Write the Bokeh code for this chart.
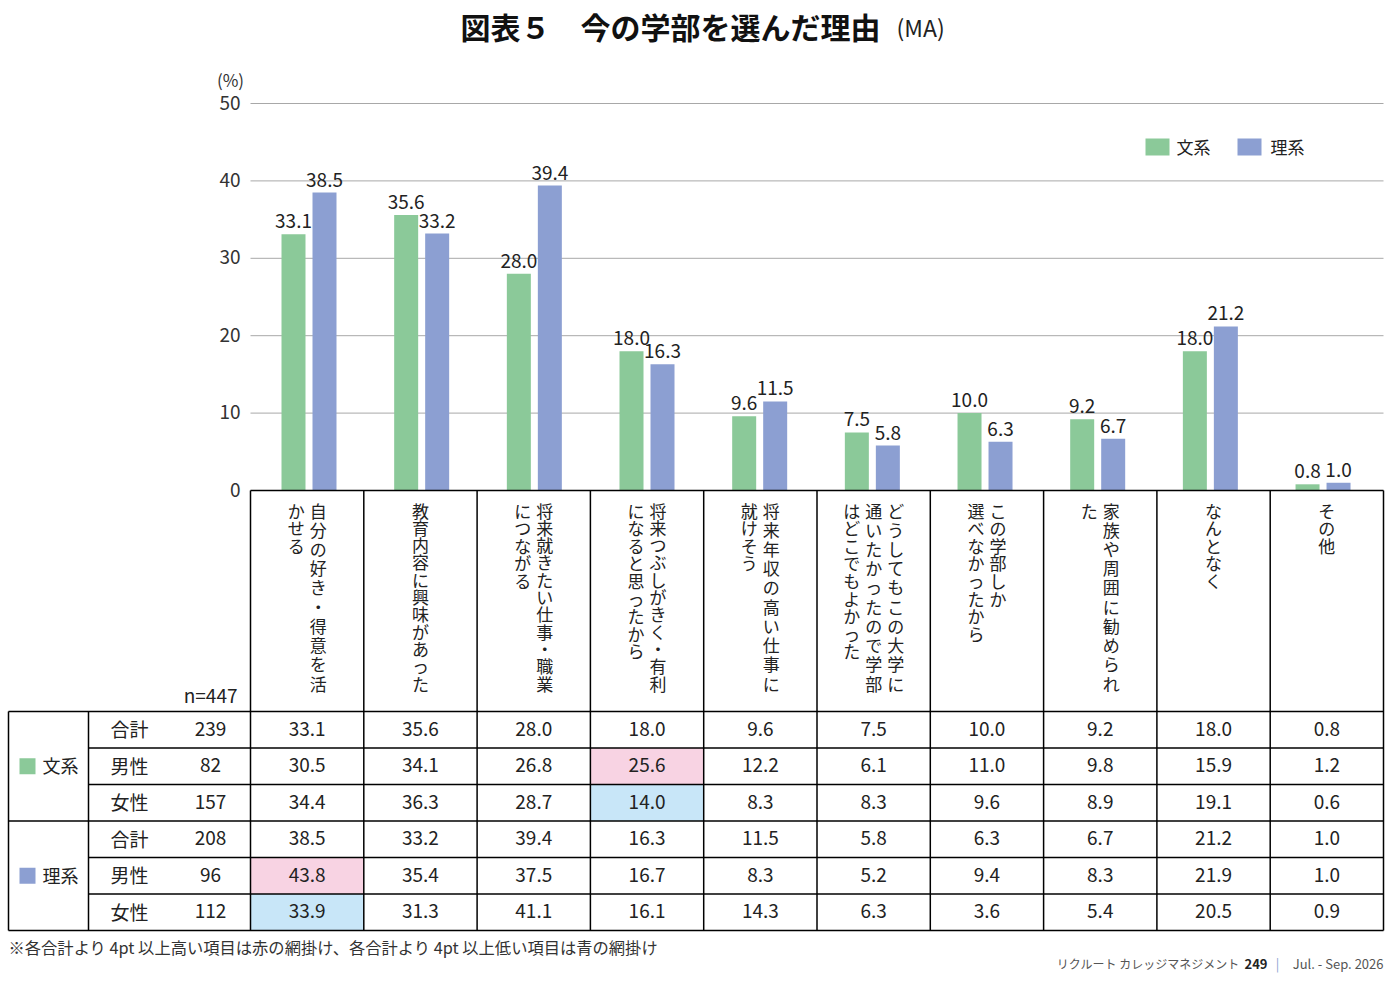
from bokeh.plotting import figure
from bokeh.models import Range1d
from bokeh.core.properties import value
from bokeh.embed import file_html
from bokeh.resources import INLINE

# ---------------- data ----------------
categories = [
    ["自分の好き・得意を活", "かせる"],
    ["教育内容に興味があった"],
    ["将来就きたい仕事・職業", "につながる"],
    ["将来つぶしがきく・有利", "になると思ったから"],
    ["将来年収の高い仕事に", "就けそう"],
    ["どうしてもこの大学に", "通いたかったので学部", "はどこでもよかった"],
    ["この学部しか", "選べなかったから"],
    ["家族や周囲に勧められ", "た"],
    ["なんとなく"],
    ["その他"],
]
series_names = ["文系", "理系"]
bunkei_total = [33.1, 35.6, 28.0, 18.0, 9.6, 7.5, 10.0, 9.2, 18.0, 0.8]
bunkei_male = [30.5, 34.1, 26.8, 25.6, 12.2, 6.1, 11.0, 9.8, 15.9, 1.2]
bunkei_female = [34.4, 36.3, 28.7, 14.0, 8.3, 8.3, 9.6, 8.9, 19.1, 0.6]
rikei_total = [38.5, 33.2, 39.4, 16.3, 11.5, 5.8, 6.3, 6.7, 21.2, 1.0]
rikei_male = [43.8, 35.4, 37.5, 16.7, 8.3, 5.2, 9.4, 8.3, 21.9, 1.0]
rikei_female = [33.9, 31.3, 41.1, 16.1, 14.3, 6.3, 3.6, 5.4, 20.5, 0.9]
row_labels = ["合計", "男性", "女性", "合計", "男性", "女性"]
row_n = [239, 82, 157, 208, 96, 112]
y_ticks = [0, 10, 20, 30, 40, 50]
n_total = "n=447"

title = "図表５　今の学部を選んだ理由"
title_sub = "(MA)"
footnote = "※各合計より 4pt 以上高い項目は赤の網掛け、各合計より 4pt 以上低い項目は青の網掛け"

# ---------------- style / layout ----------------
FONT = "Noto Sans CJK JP"
GREEN = "#8BC999"
BLUE = "#8C9FD2"
PINK = "#F8D3E3"
LBLUE = "#C8E6F8"
TXT = "#222222"

W, H = 1389, 981
COL0, COLW = 250.0, 113.3      # table columns
ZERO, PPU = 490.0, 7.74        # y=0 pixel and pixels per percent


def X(px):
    return (px - COL0) / COLW


def Y(py):
    return (ZERO - py) / PPU


p = figure(width=W, height=H, x_range=Range1d(X(0), X(W)), y_range=Range1d(Y(H), Y(0)),
           min_border=0, toolbar_location=None, output_backend="svg",
           x_axis_location=None, y_axis_location=None)
p.grid.visible = False
p.outline_line_color = None
p.background_fill_color = "white"
p.border_fill_color = "white"


def txt(x, y, t, size, align="center", baseline="middle", color=TXT, style="normal"):
    p.text(x=x, y=y, text=t, text_font=value(FONT), text_font_size=size,
           text_align=align, text_baseline=baseline, text_color=color,
           text_font_style=style)


# title
txt([X(460)], [Y(25)], [title], "30px", align="left", style="bold", color="#111")
txt([X(896)], [Y(26)], [title_sub], "23px", align="left", color="#222")

# gridlines
grid = [t for t in y_ticks if t > 0]
p.segment(x0=[0] * len(grid), x1=[10] * len(grid), y0=grid, y1=grid,
          line_color="#a8a8a8", line_width=1)
p.text(x=[X(240)] * len(y_ticks), y=y_ticks, text=[str(t) for t in y_ticks],
       text_font=value(FONT), text_font_size="19px", text_align="right",
       text_baseline="middle", text_color="#333", y_offset=-1)
txt([X(230)], [Y(79)], ["(%)"], "17px", color="#333")

# bars
n = len(bunkei_total)
pitch = 112.67 / COLW
centers = [X(308.5) + i * pitch for i in range(n)]
off = 15.5 / COLW
bw = 24 / COLW
gx = [c - off for c in centers]
bx = [c + off for c in centers]
p.vbar(x=gx, top=bunkei_total, bottom=0, width=bw, fill_color=GREEN, line_color=None)
p.vbar(x=bx, top=rikei_total, bottom=0, width=bw, fill_color=BLUE, line_color=None)
for xs, vals in ((gx, bunkei_total), (bx, rikei_total)):
    p.text(x=xs, y=vals, text=[f"{v:.1f}" for v in vals], text_font=value(FONT),
           text_font_size="19px", text_align="center", text_baseline="middle",
           text_color=TXT, y_offset=-13)

# legend
p.rect(x=[X(1157), X(1249)], y=[Y(146.5)] * 2, width=24, height=17,
       width_units="screen", height_units="screen", fill_color=[GREEN, BLUE], line_color=None)
txt([X(1176), X(1270)], [Y(145.5)] * 2, series_names, "17px", align="left")

# category labels (vertical writing)
cx, cy, ct = [], [], []
for i, lines in enumerate(categories):
    colc = COL0 + COLW * (i + 0.5)
    m = len(lines)
    for j, line in enumerate(lines):
        lx = colc + (m - 1) / 2 * 22 - j * 22
        k = len(line)
        step = 173.0 / (k - 1) if k >= 10 else 17.6
        for q, ch in enumerate(line):
            cx.append(X(lx))
            cy.append(Y(509.5 + q * step))
            ct.append(ch)
txt(cx, cy, ct, "17px")
txt([X(237)], [Y(694)], [n_total], "19px", align="right")

# table
rows = [bunkei_total, bunkei_male, bunkei_female, rikei_total, rikei_male, rikei_female]
totals = [bunkei_total] * 3 + [rikei_total] * 3
ROW_TOP, ROW_H = 711.0, 36.5
ql, qr, qt, qb, qc = [], [], [], [], []
for r, row in enumerate(rows):
    for c, v in enumerate(row):
        d = round(v - totals[r][c], 1)
        if d >= 4 or d <= -4:
            ql.append(c)
            qr.append(c + 1)
            qt.append(Y(ROW_TOP + r * ROW_H))
            qb.append(Y(ROW_TOP + (r + 1) * ROW_H))
            qc.append(PINK if d > 0 else LBLUE)
p.quad(left=ql, right=qr, top=qt, bottom=qb, fill_color=qc, line_color=None)

vx, vy, vt = [], [], []
for r, row in enumerate(rows):
    yc = Y(ROW_TOP + (r + 0.5) * ROW_H - 1)
    for c, v in enumerate(row):
        vx.append(c + 0.5)
        vy.append(yc)
        vt.append(f"{v:.1f}")
    vx += [X(129), X(210)]
    vy += [yc, yc]
    vt += [row_labels[r], str(row_n[r])]
txt(vx, vy, vt, "19px")

# group labels
gy = [Y(ROW_TOP + 1.5 * ROW_H), Y(ROW_TOP + 4.5 * ROW_H)]
p.rect(x=[X(27)] * 2, y=gy, width=16, height=16, width_units="screen", height_units="screen",
       fill_color=[GREEN, BLUE], line_color=None)
txt([X(42)] * 2, [g + 1 / PPU for g in gy], series_names, "18px", align="left")

# lines
x0, x1, y0, y1 = [], [], [], []
bottom = ROW_TOP + 6 * ROW_H
x0.append(0); x1.append(10); y0.append(0); y1.append(0)
for r in range(7):
    yy = Y(ROW_TOP + r * ROW_H)
    left = X(8) if r % 3 == 0 else X(88)
    x0.append(left); x1.append(10); y0.append(yy); y1.append(yy)
for c in range(11):
    x0.append(c); x1.append(c); y0.append(0); y1.append(Y(bottom))
for px in (8, 88):
    x0.append(X(px)); x1.append(X(px)); y0.append(Y(ROW_TOP)); y1.append(Y(bottom))
p.segment(x0=x0, x1=x1, y0=y0, y1=y1, line_color="black", line_width=1.5)

# footnote & credit
txt([X(8)], [Y(946)], [footnote], "16.3px", align="left", color="#333")
txt([X(1239)], [Y(963)], ["リクルート カレッジマネジメント"], "12px", align="right", color="#555")
txt([X(1267)], [Y(963)], ["249"], "13px", align="right", color="#222", style="bold")
txt([X(1277)], [Y(963)], ["|"], "13px", align="center", color="#8C9FD2")
txt([X(1383)], [Y(963)], ["Jul. - Sep. 2026"], "13px", align="right", color="#555")

open("out.html", "w").write(file_html(p, INLINE))
